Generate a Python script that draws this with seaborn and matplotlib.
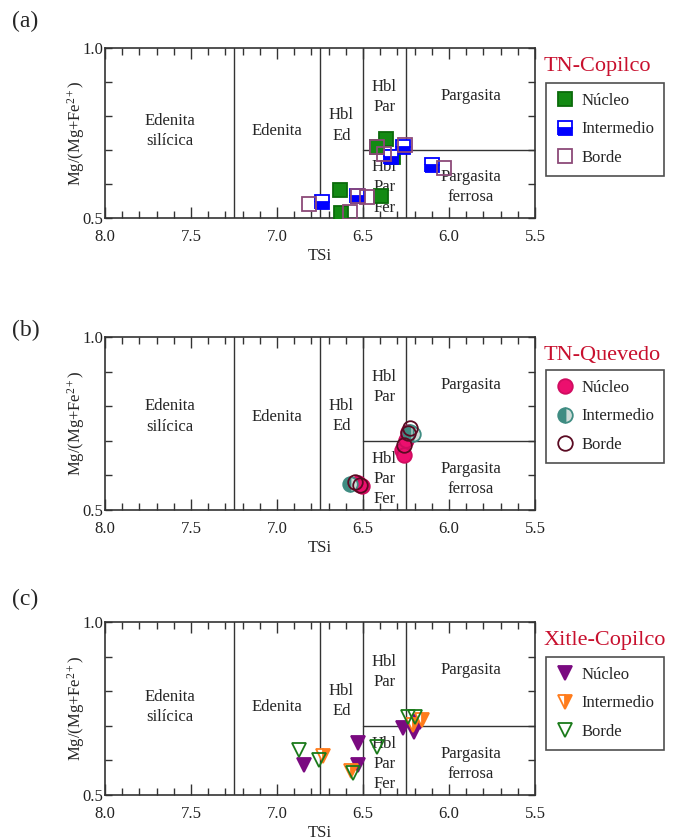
import numpy as np
import pandas as pd
import matplotlib
matplotlib.use("Agg")
import matplotlib.pyplot as plt
import seaborn as sns

# ---- data (TSi, Mg/(Mg+Fe2+)) ----
# (a) TN-Copilco
copilco_nucleo_x = [6.366, 6.419, 6.326, 6.634, 6.628, 6.395]
copilco_nucleo_y = [0.732, 0.709, 0.679, 0.582, 0.515, 0.565]
copilco_inter_x = [6.738, 6.535, 6.337, 6.267, 6.099]
copilco_inter_y = [0.547, 0.565, 0.679, 0.709, 0.656]
copilco_borde_x = [6.814, 6.576, 6.477, 6.419, 6.378, 6.256, 6.029, 6.529]
copilco_borde_y = [0.541, 0.518, 0.562, 0.709, 0.688, 0.715, 0.647, 0.565]

# (b) TN-Quevedo
quevedo_nucleo_x = [6.529, 6.506, 6.273, 6.262, 6.250, 6.238]
quevedo_nucleo_y = [0.578, 0.569, 0.673, 0.659, 0.702, 0.725]
quevedo_inter_x = [6.576, 6.227, 6.209]
quevedo_inter_y = [0.575, 0.725, 0.720]
quevedo_borde_x = [6.547, 6.517, 6.238, 6.262, 6.227]
quevedo_borde_y = [0.581, 0.572, 0.723, 0.688, 0.737]

# (c) Xitle-Copilco
xitle_nucleo_x = [6.843, 6.529, 6.529, 6.267, 6.169, 6.203]
xitle_nucleo_y = [0.587, 0.650, 0.587, 0.694, 0.711, 0.682]
xitle_inter_x = [6.733, 6.570, 6.157, 6.209]
xitle_inter_y = [0.613, 0.569, 0.717, 0.702]
xitle_borde_x = [6.872, 6.756, 6.419, 6.558, 6.198, 6.238]
xitle_borde_y = [0.630, 0.601, 0.639, 0.564, 0.725, 0.725]

series_labels = ["Núcleo", "Intermedio", "Borde"]
panel_letters = ["(a)", "(b)", "(c)"]
panel_titles = ["TN-Copilco", "TN-Quevedo", "Xitle-Copilco"]

# field boundaries of the classification diagram
tsi_bounds = [7.25, 6.75, 6.5, 6.25]
mg_bound = 0.7

sns.set_style("ticks")
plt.rcParams["font.family"] = ["Liberation Serif", "DejaVu Serif"]
plt.rcParams["mathtext.fontset"] = "custom"
plt.rcParams["mathtext.rm"] = "Liberation Serif"
plt.rcParams["mathtext.it"] = "Liberation Serif:italic"

# marker styles per panel: (Núcleo, Intermedio, Borde)
styles = [
    [dict(marker="s", mfc="#138a13", mec="#0b6a0b", fillstyle="full"),
     dict(marker="s", mfc="#0000ff", mec="#0000ff", fillstyle="bottom", mfcalt="white"),
     dict(marker="s", mfc="none", mec="#8c4a78", fillstyle="none")],
    [dict(marker="o", mfc="#ec0f6e", mec="#d00c60", fillstyle="full"),
     dict(marker="o", mfc="#3f8c82", mec="#3f8c82", fillstyle="left", mfcalt="#cfdcd8"),
     dict(marker="o", mfc="none", mec="#5a0a22", fillstyle="none")],
    [dict(marker="v", mfc="#7a0a80", mec="#7a0a80", fillstyle="full"),
     dict(marker="v", mfc="#ff7c1c", mec="#ff7c1c", fillstyle="right", mfcalt="white"),
     dict(marker="v", mfc="none", mec="#1a7a1a", fillstyle="none")],
]

panel_data = [
    [(copilco_nucleo_x, copilco_nucleo_y), (copilco_inter_x, copilco_inter_y),
     (copilco_borde_x, copilco_borde_y)],
    [(quevedo_nucleo_x, quevedo_nucleo_y), (quevedo_inter_x, quevedo_inter_y),
     (quevedo_borde_x, quevedo_borde_y)],
    [(xitle_nucleo_x, xitle_nucleo_y), (xitle_inter_x, xitle_inter_y),
     (xitle_borde_x, xitle_borde_y)],
]

fig = plt.figure(figsize=(6.83, 8.4), dpi=100)
ax_rects = [
    [0.1537, 0.7405, 0.6296, 0.2024],
    [0.1537, 0.3929, 0.6296, 0.2060],
    [0.1537, 0.0536, 0.6296, 0.2060],
]
letter_y = [0.974, 0.607, 0.286]
legend_top = [0.794, 0.809, 0.798]


def draw_fields(ax, ymid):
    for xb in tsi_bounds:
        ax.axvline(xb, color="#333333", lw=1.0, zorder=1)
    ax.plot([6.5, 5.5], [mg_bound, mg_bound], color="#333333", lw=1.0, zorder=1)
    kw = dict(ha="center", va="center", fontsize=12, linespacing=1.35, zorder=2)
    ax.text(7.625, ymid, "Edenita\nsilícica", **kw)
    ax.text(7.0, ymid, "Edenita", **kw)
    ax.text(6.625, 0.772, "Hbl\nEd", **kw)
    ax.text(6.375, 0.855, "Hbl\nPar", **kw)
    ax.text(5.875, 0.86, "Pargasita", **kw)
    ax.text(6.375, 0.59, "Hbl\nPar\nFer", **kw)
    ax.text(5.875, 0.59, "Pargasita\nferrosa", **kw)


for i in range(3):
    ax = fig.add_axes(ax_rects[i])
    draw_fields(ax, 0.77 if i == 1 else 0.755)

    handles = []
    for (xs, ys), st, lab in zip(panel_data[i], styles[i], series_labels):
        df = pd.DataFrame({"TSi": xs, "Mg": ys})
        n_before = len(ax.lines)
        sns.lineplot(data=df, x="TSi", y="Mg", ax=ax, estimator=None, sort=False,
                     linestyle="", marker=st["marker"], markersize=10.5,
                     markerfacecolor=st["mfc"], markeredgecolor=st["mec"],
                     markeredgewidth=1.3, fillstyle=st["fillstyle"],
                     markerfacecoloralt=st.get("mfcalt", "none"),
                     legend=False, zorder=3)
        line = ax.lines[n_before]
        line.set_label(lab)
        handles.append(line)

    ax.set_xlim(8.0, 5.5)
    ax.set_ylim(0.5, 1.0)
    ax.set_xticks(np.arange(5.5, 8.01, 0.5))
    ax.set_xticklabels(["5.5", "6.0", "6.5", "7.0", "7.5", "8.0"])
    ax.set_xticks(np.arange(5.5, 8.01, 0.1), minor=True)
    ax.set_yticks([0.5, 0.6, 0.7, 0.8, 0.9, 1.0])
    ax.set_yticklabels(["0.5", "", "", "", "", "1.0"])
    ax.tick_params(axis="both", which="both", direction="in", top=True, right=True,
                   labelsize=12, width=1.0, colors="#333333", labelcolor="#222222")
    ax.tick_params(axis="x", which="major", length=8, pad=8)
    ax.tick_params(axis="x", which="minor", length=5)
    ax.tick_params(axis="y", which="major", length=5, pad=1)
    for sp in ax.spines.values():
        sp.set_linewidth(1.2)
        sp.set_color("#333333")
    ax.set_xlabel("TSi", fontsize=12, labelpad=2)
    ax.set_ylabel("Mg/(Mg+Fe$^{2+}$)", fontsize=12, labelpad=-3)

    ax.text(1.02, 0.89, panel_titles[i], transform=ax.transAxes, ha="left",
            va="center", fontsize=16, color="#c8102e")
    leg = ax.legend(handles=handles, loc="upper left",
                    bbox_to_anchor=(1.026, legend_top[i]), borderaxespad=0,
                    fontsize=12, frameon=True, fancybox=False, handlelength=1.0,
                    handletextpad=0.5, labelspacing=0.75, borderpad=0.6)
    leg.get_frame().set_edgecolor("#222222")
    leg.get_frame().set_linewidth(1.2)

    fig.text(0.017, letter_y[i], panel_letters[i], fontsize=17, va="center", ha="left")

fig.savefig("out.png", dpi=100)
